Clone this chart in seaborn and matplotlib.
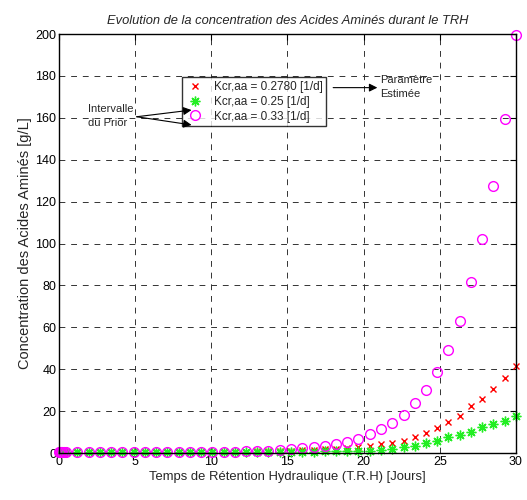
import matplotlib
matplotlib.use('Agg')
import matplotlib.pyplot as plt
import seaborn as sns
import pandas as pd
import numpy as np

# temps (jours)
trh = [0.0, 0.05, 0.1, 0.2, 0.3, 0.45,
       1.2, 1.94, 2.68, 3.42, 4.15, 4.89, 5.63, 6.37, 7.11, 7.85,
       8.58, 9.32, 10.06, 10.8, 11.54, 12.28, 13.02, 13.75, 14.49, 15.23,
       15.97, 16.71, 17.45, 18.18, 18.92, 19.66, 20.4, 21.14, 21.88, 22.62,
       23.35, 24.09, 24.83, 25.57, 26.31, 27.05, 27.78, 28.52, 29.26, 30.0]

# Kcr,aa = 0.2780 (parametre estime)
aa_est = [0.3, 0.3, 0.3, 0.3, 0.3, 0.3,
          0.3, 0.3, 0.3, 0.3, 0.3, 0.3, 0.3, 0.35, 0.35, 0.4,
          0.4, 0.45, 0.5, 0.55, 0.6, 0.65, 0.75, 0.85, 0.95, 1.1,
          1.3, 1.5, 1.7, 2.0, 2.4, 3.0, 3.3, 4.2, 4.9, 5.9,
          7.8, 9.7, 11.9, 14.8, 17.8, 22.4, 25.8, 30.5, 35.7, 41.7]

# Kcr,aa = 0.25 (borne basse du prior)
aa_low = [0.3, 0.3, 0.3, 0.3, 0.3, 0.3,
          0.3, 0.3, 0.3, 0.3, 0.3, 0.3, 0.3, 0.3, 0.3, 0.3,
          0.3, 0.3, 0.35, 0.35, 0.4, 0.4, 0.45, 0.5, 0.5, 0.6,
          0.65, 0.7, 0.8, 0.9, 1.0, 0.8, 1.1, 1.4, 2.1, 3.0,
          3.5, 4.6, 5.9, 7.5, 8.6, 10.2, 12.3, 13.8, 15.4, 17.8]

# Kcr,aa = 0.33 (borne haute du prior)
aa_high = [0.3, 0.3, 0.3, 0.3, 0.3, 0.3,
           0.3, 0.3, 0.3, 0.3, 0.3, 0.3, 0.3, 0.3, 0.35, 0.4,
           0.45, 0.5, 0.55, 0.6, 0.7, 0.8, 0.95, 1.1, 1.4, 1.8,
           2.2, 2.9, 3.5, 4.3, 5.4, 6.6, 8.9, 11.3, 14.2, 18.1,
           23.7, 30.1, 38.8, 49.2, 63.2, 81.6, 102.0, 127.4, 159.4, 199.5]

sns.set_theme(style='white')
plt.rcParams['font.family'] = ['Liberation Sans', 'DejaVu Sans']

fig = plt.figure(figsize=(5.27, 5.0), dpi=100)
ax = fig.add_axes([0.112, 0.094, 0.867, 0.838])

sns.lineplot(x=trh, y=aa_est, ax=ax, marker='x', linestyle='', color='red',
             ms=4, mec='red', mew=1, clip_on=False, label='Kcr,aa = 0.2780 [1/d]')
sns.lineplot(x=trh, y=aa_low, ax=ax, marker=(8, 2, 0), linestyle='', color='#22ee22',
             ms=7, mec='#22ee22', mew=1, clip_on=False, label='Kcr,aa = 0.25 [1/d]')
sns.lineplot(x=trh, y=aa_high, ax=ax, marker='o', linestyle='', color='magenta',
             ms=7, mfc='none', mec='magenta', mew=1, clip_on=False,
             label='Kcr,aa = 0.33 [1/d]')

ax.set_xlim(0, 30)
ax.set_ylim(0, 200)
ax.set_xticks(range(0, 31, 5))
ax.set_yticks(range(0, 201, 20))
ax.grid(True, linestyle=(0, (6, 6)), color='0.2', linewidth=0.7)
ax.tick_params(direction='in', length=4, width=0.8, top=True, right=True,
               labelsize=9, colors='black', pad=2)
for s in ax.spines.values():
    s.set_color('black')
    s.set_linewidth(1)

ax.set_title('Evolution de la concentration des Acides Aminés durant le TRH',
             fontsize=9.3, style='italic', pad=7)
ax.set_xlabel('Temps de Rétention Hydraulique (T.R.H) [Jours]', fontsize=9.4, labelpad=2)
ax.set_ylabel('Concentration des Acides Aminés [g/L]', fontsize=10.5, labelpad=2)

leg = ax.legend(loc='upper left', bbox_to_anchor=(0.269, 0.897), fontsize=8.5,
                frameon=True, fancybox=False, edgecolor='black', numpoints=1,
                handlelength=1.6, borderpad=0.3, labelspacing=0.25,
                handletextpad=0.8, borderaxespad=0)
leg.get_frame().set_linewidth(1)
leg.set_zorder(5)

# annotations
ax.text(1.9, 161, 'Intervalle\ndu Prior', fontsize=8, va='center', ha='left',
        linespacing=1.5)
for yend in (163.7, 156.6):
    ax.annotate('', xy=(8.7, yend), xytext=(5.1, 160.5), zorder=10,
                arrowprops=dict(arrowstyle='-|>', color='black', lw=0.8,
                                mutation_scale=12, shrinkA=0, shrinkB=0))
ax.text(21.1, 174.5, 'Paramètre\nEstimée', fontsize=8, va='center', ha='left',
        linespacing=1.5)
ax.annotate('', xy=(20.9, 174.4), xytext=(18.0, 174.4), zorder=10,
            arrowprops=dict(arrowstyle='-|>', color='black', lw=0.8,
                            mutation_scale=12, shrinkA=0, shrinkB=0))

fig.savefig('out.png', dpi=100)
